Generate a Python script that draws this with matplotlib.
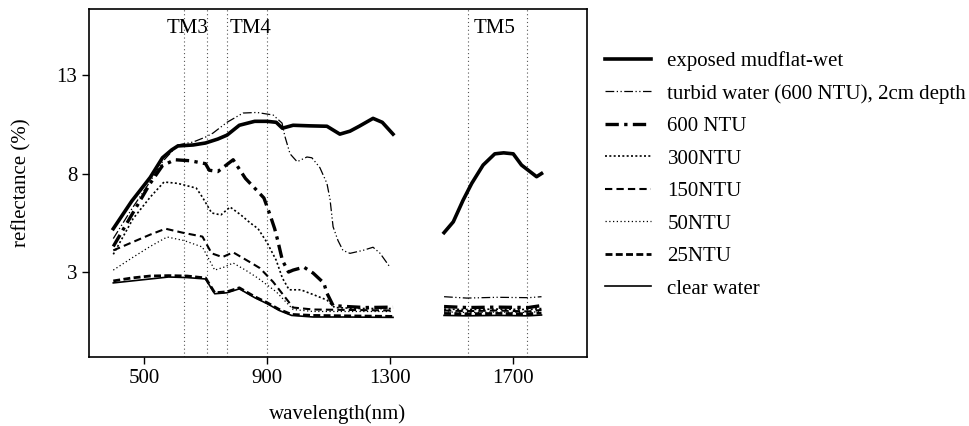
import numpy as np
import matplotlib
matplotlib.use("Agg")
import matplotlib.pyplot as plt

plt.rcParams['font.family'] = ['Liberation Serif', 'DejaVu Serif']

# ---- data (wavelength nm, reflectance %) ----
mud_wl1 = [400, 430, 460, 490, 520, 560, 590, 610, 660, 700, 740, 770, 810, 860, 900, 930, 950, 985, 1040, 1095, 1137, 1170, 1200, 1245, 1275, 1310]
mud_r1 = [5.2, 5.9, 6.6, 7.2, 7.8, 8.8, 9.2, 9.4, 9.45, 9.55, 9.75, 9.95, 10.45, 10.65, 10.65, 10.6, 10.3, 10.45, 10.42, 10.4, 10.0, 10.15, 10.4, 10.8, 10.6, 10.0]
mud_wl2 = [1476, 1506, 1538, 1566, 1603, 1641, 1670, 1701, 1728, 1777, 1793]
mud_r2 = [5.0, 5.55, 6.65, 7.5, 8.43, 9.0, 9.05, 9.0, 8.43, 7.84, 8.0]

turb_wl1 = [400, 460, 520, 560, 610, 660, 700, 724, 770, 822, 867, 920, 949, 958, 975, 998, 1030, 1046, 1072, 1095, 1105, 1115, 1131, 1147, 1170, 1212, 1245, 1268, 1300]
turb_r1 = [4.7, 6.2, 7.6, 8.6, 9.45, 9.6, 9.85, 10.05, 10.6, 11.07, 11.1, 10.97, 10.56, 9.9, 9.0, 8.6, 8.84, 8.8, 8.3, 7.5, 6.7, 5.3, 4.6, 4.1, 3.95, 4.1, 4.26, 3.95, 3.25]
turb_wl2 = [1476, 1550, 1650, 1750, 1793]
turb_r2 = [1.75, 1.68, 1.72, 1.7, 1.75]

n600_wl1 = [400, 460, 520, 560, 600, 650, 700, 712, 740, 790, 830, 860, 890, 910, 925, 935, 950, 970, 985, 1020, 1050, 1085, 1095, 1115, 1160, 1220, 1310]
n600_r1 = [4.3, 5.9, 7.5, 8.4, 8.7, 8.65, 8.5, 8.17, 8.1, 8.7, 7.75, 7.26, 6.76, 5.9, 5.2, 4.6, 3.6, 3.0, 3.1, 3.25, 2.95, 2.44, 1.93, 1.3, 1.25, 1.2, 1.22]
n600_wl2 = [1476, 1550, 1650, 1750, 1793]
n600_r2 = [1.25, 1.2, 1.22, 1.2, 1.3]

n300_wl1 = [400, 464, 520, 565, 610, 670, 690, 720, 750, 780, 815, 845, 871, 900, 930, 950, 972, 1010, 1055, 1095, 1120, 1200, 1310]
n300_r1 = [3.9, 5.7, 6.8, 7.57, 7.5, 7.26, 6.8, 6.0, 5.9, 6.3, 5.9, 5.5, 5.2, 4.5, 3.6, 2.7, 2.1, 2.1, 1.83, 1.58, 1.2, 1.15, 1.15]
n300_wl2 = [1476, 1550, 1650, 1750, 1793]
n300_r2 = [1.12, 1.1, 1.12, 1.1, 1.15]

n150_wl1 = [400, 460, 520, 570, 625, 690, 720, 755, 790, 845, 877, 920, 960, 985, 1050, 1310]
n150_r1 = [4.1, 4.5, 4.9, 5.2, 5.0, 4.8, 3.95, 3.76, 4.0, 3.5, 3.2, 2.5, 1.7, 1.2, 1.1, 1.05]
n150_wl2 = [1476, 1550, 1650, 1750, 1793]
n150_r2 = [1.05, 1.02, 1.05, 1.0, 1.08]

n50_wl1 = [400, 465, 520, 575, 630, 690, 730, 760, 790, 830, 870, 930, 985, 1050, 1310]
n50_r1 = [3.1, 3.76, 4.3, 4.78, 4.6, 4.27, 3.1, 3.25, 3.46, 3.1, 2.7, 2.0, 1.1, 1.0, 1.0]
n50_wl2 = [1476, 1550, 1650, 1750, 1793]
n50_r2 = [0.98, 0.95, 0.97, 0.95, 1.0]

n25_wl1 = [400, 460, 520, 580, 640, 700, 730, 770, 810, 860, 900, 940, 980, 1050, 1150, 1310]
n25_r1 = [2.55, 2.7, 2.8, 2.82, 2.8, 2.7, 1.95, 2.0, 2.2, 1.75, 1.45, 1.1, 0.85, 0.8, 0.78, 0.75]
n25_wl2 = [1476, 1550, 1650, 1750, 1793]
n25_r2 = [0.9, 0.88, 0.9, 0.88, 0.92]

clear_wl1 = [400, 460, 520, 580, 640, 700, 730, 770, 810, 860, 900, 940, 980, 1050, 1150, 1310]
clear_r1 = [2.45, 2.55, 2.65, 2.75, 2.72, 2.65, 1.9, 1.95, 2.15, 1.7, 1.4, 1.05, 0.8, 0.72, 0.72, 0.7]
clear_wl2 = [1476, 1550, 1650, 1750, 1793]
clear_r2 = [0.8, 0.78, 0.8, 0.78, 0.82]

labels = ["exposed mudflat-wet", "turbid water (600 NTU), 2cm depth", "600 NTU",
          "300NTU", "150NTU", "50NTU", "25NTU", "clear water"]

band_edges = [630, 705, 770, 900, 1555, 1745]
band_names = ["TM3", "TM4", "TM5"]
band_label_x = [643, 845, 1641]

x_ticks = [500, 900, 1300, 1700]
y_ticks = [3, 8, 13]

# ---- styles ----
styles = [
    dict(lw=2.6, ls='-'),
    dict(lw=0.9, ls=(0, (7, 2, 1, 2, 1, 2))),
    dict(lw=2.4, ls=(0, (4, 1.6, 1, 1.6))),
    dict(lw=1.2, ls=(0, (1.2, 1.4))),
    dict(lw=1.5, ls=(0, (3.5, 2))),
    dict(lw=0.9, ls=(0, (1, 2))),
    dict(lw=2.0, ls=(0, (2.5, 1.2))),
    dict(lw=1.2, ls='-'),
]

series = [
    (mud_wl1, mud_r1, mud_wl2, mud_r2),
    (turb_wl1, turb_r1, turb_wl2, turb_r2),
    (n600_wl1, n600_r1, n600_wl2, n600_r2),
    (n300_wl1, n300_r1, n300_wl2, n300_r2),
    (n150_wl1, n150_r1, n150_wl2, n150_r2),
    (n50_wl1, n50_r1, n50_wl2, n50_r2),
    (n25_wl1, n25_r1, n25_wl2, n25_r2),
    (clear_wl1, clear_r1, clear_wl2, clear_r2),
]

FS = 15

fig = plt.figure(figsize=(9.7, 4.26), dpi=100)
ax = fig.add_axes([89 / 970, 1 - 357 / 426, (587 - 89) / 970, (357 - 9) / 426])

for e in band_edges:
    ax.axvline(e, color='#555555', lw=0.8, ls=(0, (1, 2.5)), zorder=1)

handles = []
for (w1, r1, w2, r2), st, lab in zip(series, styles, labels):
    wl = list(w1) + [np.nan] + list(w2)
    rr = list(r1) + [np.nan] + list(r2)
    h, = ax.plot(wl, rr, color='black', label=lab, zorder=3, **st)
    handles.append(h)

for name, xpos in zip(band_names, band_label_x):
    ax.text(xpos, 0.945, name, transform=ax.get_xaxis_transform(),
            ha='center', va='center', fontsize=FS)

ax.set_xlim(321, 1941)
ax.set_ylim(-1.31, 16.35)
ax.set_xticks(x_ticks)
ax.set_yticks(y_ticks)
ax.tick_params(direction='out', length=5, width=1, labelsize=FS, top=False, right=False)
for s in ax.spines.values():
    s.set_linewidth(1.2)
ax.set_xlabel("wavelength(nm)", fontsize=FS, labelpad=12)
ax.set_ylabel("reflectance (%)", fontsize=FS, labelpad=18)

fig.legend(handles=handles, labels=labels, loc='upper left',
           bbox_to_anchor=(605 / 970, 1 - 51 / 426), frameon=False,
           fontsize=FS, handlelength=2.2, handletextpad=0.8,
           labelspacing=0.62, borderpad=0, borderaxespad=0)

fig.savefig("out.png", dpi=100)
